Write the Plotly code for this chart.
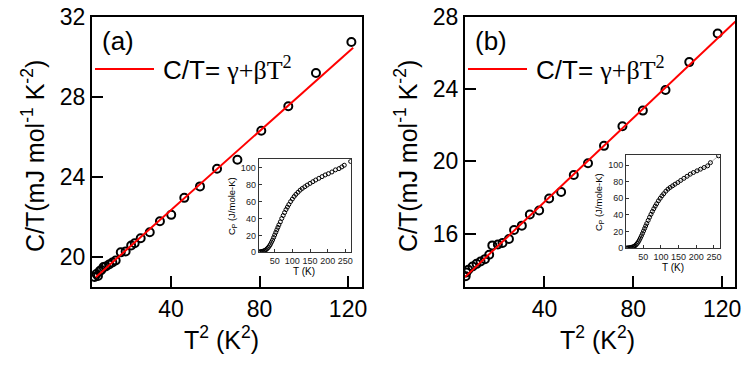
import plotly.graph_objects as go

# ---- data: panel (a) ----
a_t2 = [5.5, 6.3, 7.0, 7.8, 8.5, 9.5, 10.5, 12.0, 13.5, 15.0, 17.3, 19.5, 22.0, 23.6,
        26.3, 30.4, 35.0, 40.1, 46.0, 53.1, 60.8, 70.0, 80.8, 93.0, 105.5, 121.5]
a_ct = [19.0, 19.15, 19.05, 19.3, 19.35, 19.5, 19.52, 19.62, 19.72, 19.82, 20.23, 20.27,
        20.57, 20.68, 20.93, 21.23, 21.78, 22.1, 22.95, 23.52, 24.4, 24.85, 26.3, 27.52,
        29.18, 30.73]
a_gamma, a_beta = 18.4, 0.0985
a_fit_x = [6.0, 122.3]

# ---- data: panel (b) ----
b_t2 = [4.5, 4.8, 5.7, 7.6, 9.4, 11.2, 13.2, 15.1, 16.5, 19.0, 21.1, 24.0, 26.3, 29.8,
        33.4, 37.6, 42.1, 47.5, 53.2, 59.6, 66.8, 75.1, 84.3, 94.5, 105.2, 118.0]
b_ct = [13.65, 13.85, 14.0, 14.18, 14.33, 14.46, 14.59, 14.83, 15.35, 15.4, 15.48, 15.7,
        16.2, 16.44, 17.06, 17.28, 17.94, 18.3, 19.24, 19.89, 20.85, 21.93, 22.8, 23.94,
        25.48, 27.06]
b_gamma, b_beta = 13.11, 0.116
b_fit_x = [4.2, 126.0]

# ---- tick values ----
x_major = [40, 80, 120]
x_minor = [20, 60, 100]
ya_major = [20, 24, 28, 32]
ya_minor = [22, 26, 30]
yb_major = [16, 20, 24, 28]
yb_minor = [14, 18, 22, 26]
in_x_ticks = [50, 100, 150, 200, 250]
in_y_ticks = [0, 20, 40, 60, 80, 100]

# ---- inset data (Cp vs T) ----
ia_T = [5, 8, 11, 14, 17, 20, 23, 26, 29, 32, 35, 38, 41, 44, 47, 50, 53, 56, 59, 62, 66,
        70, 74, 78, 82, 86, 90, 95, 100, 105, 110, 116, 122, 128, 135, 142, 150, 158, 166,
        175, 184, 193, 202, 212, 222, 232, 240, 247, 265]
ia_Cp = [0.3, 0.5, 0.8, 1.0, 1.3, 1.8, 2.4, 3.3, 4.5, 5.8, 7.5, 9.5, 12, 14.5, 17.5, 20.5,
         23.5, 26.5, 29.5, 32.5, 36, 40, 43.5, 47, 50.5, 53.5, 56.5, 60, 63, 66, 68.5, 71,
         73.5, 75.5, 77.5, 79.5, 81.5, 83.5, 85.5, 87.5, 89.5, 91.5, 93, 95, 97.5, 99, 101,
         103, 107.5]
ib_T = [3, 6, 9, 12, 15, 18, 21, 24, 27, 30, 33, 36, 39, 42, 45, 48, 51, 54, 57, 60, 64,
        68, 72, 76, 80, 84, 88, 93, 98, 103, 108, 114, 120, 126, 133, 140, 148, 156, 165,
        174, 183, 192, 202, 212, 222, 232, 240, 263]
ib_Cp = [0.3, 0.4, 0.6, 0.8, 1.0, 1.3, 1.7, 2.3, 3.1, 4.3, 5.8, 7.6, 9.8, 12.3, 15, 17.8,
         20.8, 23.8, 26.8, 29.8, 33.5, 37.2, 40.8, 44.2, 47.5, 50.6, 53.5, 57, 60, 63, 65.5,
         68.5, 71, 73, 75, 77, 79, 81.5, 84, 86.5, 89, 91, 93, 95, 97, 99, 102.8, 111]

# ---- layout geometry (paper) ----
W, H = 747, 375
def px(x):
    return x / W
def py(y):
    return 1 - y / H

FONT = "Liberation Sans, Arial, sans-serif"

fig = go.Figure()

mk_main = dict(symbol="circle-open", size=8, color="black", line=dict(width=2, color="black"))
mk_in = dict(symbol="circle-open", size=4, color="black", line=dict(width=1, color="black"))

fig.add_trace(go.Scatter(x=a_t2, y=a_ct, mode="markers", xaxis="x", yaxis="y",
                         marker=mk_main, showlegend=False))
fig.add_trace(go.Scatter(x=a_fit_x, y=[a_gamma + a_beta * v for v in a_fit_x], mode="lines",
                         xaxis="x", yaxis="y", line=dict(color="#ff0000", width=2),
                         showlegend=False))
fig.add_trace(go.Scatter(x=b_t2, y=b_ct, mode="markers", xaxis="x2", yaxis="y2",
                         marker=mk_main, showlegend=False))
fig.add_trace(go.Scatter(x=b_fit_x, y=[b_gamma + b_beta * v for v in b_fit_x], mode="lines",
                         xaxis="x2", yaxis="y2", line=dict(color="#ff0000", width=2),
                         showlegend=False))
fig.add_trace(go.Scatter(x=ia_T, y=ia_Cp, mode="markers", xaxis="x3", yaxis="y3",
                         marker=mk_in, showlegend=False))
fig.add_trace(go.Scatter(x=ib_T, y=ib_Cp, mode="lines+markers", xaxis="x4", yaxis="y4",
                         line=dict(color="#777", width=0.6), marker=mk_in, showlegend=False))

def main_ax(**kw):
    d = dict(showline=True, linecolor="black", linewidth=2, mirror=True,
             ticks="inside", ticklen=11, tickwidth=2, tickcolor="black",
             showgrid=False, zeroline=False, automargin=False, tickmode="array",
             tickfont=dict(family=FONT, size=23, color="black"))
    d.update(kw)
    return d

def minor_ax(**kw):
    d = dict(showline=False, ticks="inside", ticklen=6, tickwidth=2, tickcolor="black",
             showgrid=False, zeroline=False, automargin=False, tickmode="array",
             showticklabels=False)
    d.update(kw)
    return d

def inset_ax(**kw):
    d = dict(showline=True, linecolor="#333", linewidth=1, mirror=True,
             ticks="inside", ticklen=3, tickwidth=1, tickcolor="#333",
             showgrid=False, zeroline=False, automargin=False, tickmode="array",
             tickfont=dict(family=FONT, size=9, color="#222"))
    d.update(kw)
    return d

xdom_a = [px(92), px(362)]
xdom_b = [px(465), px(735)]
ydom = [py(287), py(16.5)]
xa_rng, xb_rng = [4.3, 126.3], [4.2, 125.8]
ya_rng, yb_rng = [18.5, 32], [13.05, 28]

fig.update_layout(
    width=W, height=H, margin=dict(l=0, r=0, t=0, b=0, autoexpand=False),
    paper_bgcolor="white", plot_bgcolor="white",
    xaxis=main_ax(domain=xdom_a, range=xa_rng, anchor="y", tickvals=x_major),
    yaxis=main_ax(domain=ydom, range=ya_rng, anchor="x", tickvals=ya_major),
    xaxis2=main_ax(domain=xdom_b, range=xb_rng, anchor="y2", tickvals=x_major),
    yaxis2=main_ax(domain=ydom, range=yb_rng, anchor="x2", tickvals=yb_major),
    xaxis3=inset_ax(domain=[px(258.7), px(351)], range=[4.7, 266], anchor="y3",
                    tickvals=in_x_ticks),
    yaxis3=inset_ax(domain=[py(252.3), py(159.3)], range=[0, 110], anchor="x3",
                    tickvals=in_y_ticks),
    xaxis4=inset_ax(domain=[px(626), px(720)], range=[1.4, 267], anchor="y4",
                    tickvals=in_x_ticks),
    yaxis4=inset_ax(domain=[py(248.3), py(155)], range=[0, 112], anchor="x4",
                    tickvals=in_y_ticks),
    # minor tick overlays
    xaxis5=minor_ax(overlaying="x", anchor="y", range=xa_rng, tickvals=x_minor),
    yaxis5=minor_ax(overlaying="y", anchor="x", range=ya_rng, tickvals=ya_minor),
    xaxis6=minor_ax(overlaying="x2", anchor="y2", range=xb_rng, tickvals=x_minor),
    yaxis6=minor_ax(overlaying="y2", anchor="x2", range=yb_rng, tickvals=yb_minor),
)

ann = []
def txt(x, y, s, size, **kw):
    d = dict(x=px(x), y=py(y), xref="paper", yref="paper", text=s, showarrow=False,
             xanchor="center", yanchor="middle",
             font=dict(family=FONT, size=size, color="black"))
    d.update(kw)
    ann.append(d)

shapes = []
ylab = "C/T(mJ mol<sup>-1</sup> K<sup>-2</sup>)"
xlab = "T<sup>2</sup> (K<sup>2</sup>)"
leg = ("C/T= <span style='font-family:Liberation Serif, Times New Roman, serif'>"
       "γ+βT<sup>2</sup></span>")
for off, lbl in [(0, "(a)"), (373, "(b)")]:
    txt(33 + off, 156, ylab, 25, textangle=-90)
    txt(118 + off, 41, lbl, 26)
    txt(161 + off, 69, leg, 26, xanchor="left")
    shapes.append(dict(type="line", xref="paper", yref="paper", x0=px(95 + off),
                       x1=px(154 + off), y0=py(69), y1=py(69),
                       line=dict(color="#ff0000", width=2)))
txt(221, 338, xlab, 25)
txt(597, 338, xlab, 25)
txt(304, 271, "T (K)", 10)
txt(232, 206, "C<sub>P</sub> (J/mole-K)", 9.5, textangle=-90)
txt(673, 267, "T (K)", 10)
txt(599, 202, "C<sub>P</sub> (J/mole-K)", 9.5, textangle=-90)

fig.update_layout(annotations=ann, shapes=shapes)

fig.write_html("out.html", config={"displayModeBar": False},
               post_script="document.body.style.margin='0px';")
